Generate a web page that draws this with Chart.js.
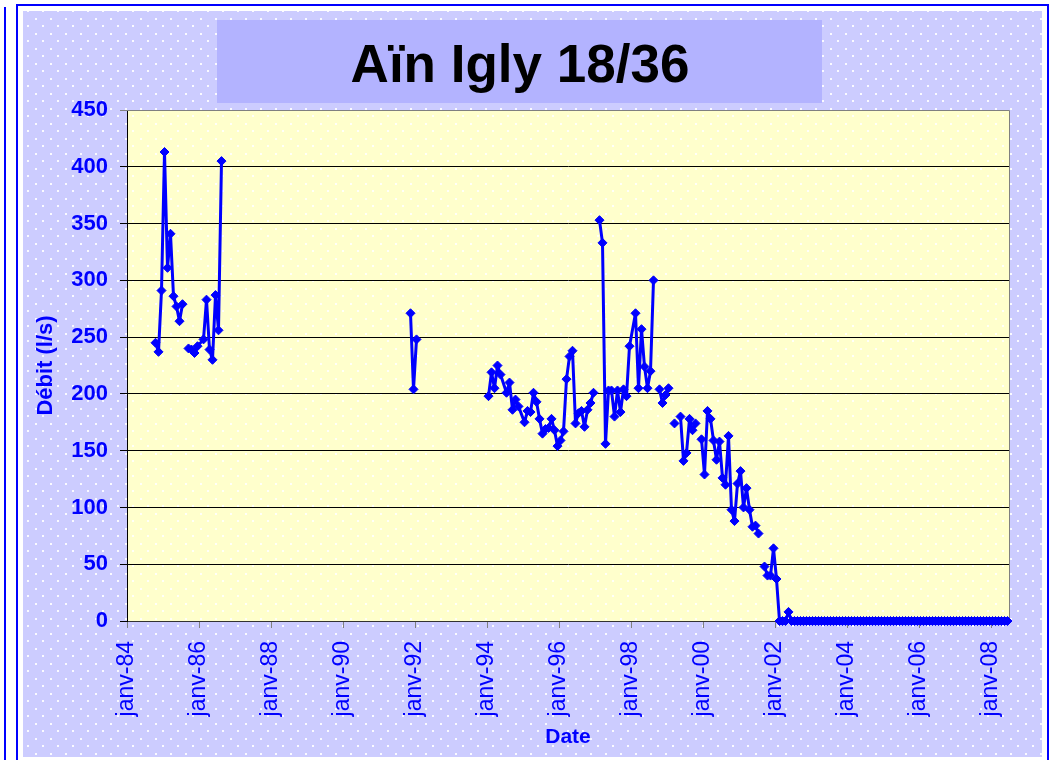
<!DOCTYPE html>
<html>
<head>
<meta charset="utf-8">
<title>Aïn Igly 18/36</title>
<script src="https://cdn.jsdelivr.net/npm/chart.js@4.4.1/dist/chart.umd.min.js"></script>
<style>
  html, body { margin: 0; padding: 0; background: #fff; }
  canvas { display: block; }
</style>
</head>
<body>
<canvas id="chart" width="1053" height="760"></canvas>
<script>
const chartTitle = 'Aïn Igly 18/36';
const yTitle = 'Débit (l/s)';
const xTitle = 'Date';

const tickLabels = ['janv-84', 'janv-86', 'janv-88', 'janv-90', 'janv-92', 'janv-94', 'janv-96',
  'janv-98', 'janv-00', 'janv-02', 'janv-04', 'janv-06', 'janv-08'];

// monthly measurements, null = break in the curve
const months = [
  '1984-10', '1984-11', '1984-12',
  '1985-01', '1985-02', '1985-03', '1985-04', '1985-05', '1985-06', '1985-07', '1985-08', '1985-09', '1985-10', '1985-11', '1985-12',
  '1986-02', '1986-03', '1986-04', '1986-05', '1986-06', '1986-07', '1986-08', '1986-09',
  '1991-11', '1991-12', '1992-01', '1992-02',
  '1994-01', '1994-02', '1994-03', '1994-04', '1994-05', '1994-07', '1994-08', '1994-09', '1994-10', '1994-11',
  '1995-01', '1995-02', '1995-03', '1995-04', '1995-05', '1995-06', '1995-07', '1995-08', '1995-09', '1995-10', '1995-11', '1995-12',
  '1996-01', '1996-02', '1996-03', '1996-04', '1996-05', '1996-06', '1996-07', '1996-08', '1996-09', '1996-10', '1996-11', '1996-12',
  '1997-01', '1997-02', '1997-03', '1997-04', '1997-05', '1997-06', '1997-07', '1997-08', '1997-09', '1997-10', '1997-11', '1997-12',
  '1998-02', '1998-03', '1998-04', '1998-05', '1998-06', '1998-07', '1998-08', '1998-09', '1998-10', '1998-11', '1998-12',
  '1999-01', '1999-02', '1999-03', '1999-04', '1999-05', '1999-06', '1999-07', '1999-08', '1999-09', '1999-10', '1999-11', '1999-12',
  '2000-01', '2000-02', '2000-03', '2000-04', '2000-05', '2000-06', '2000-07', '2000-08', '2000-09', '2000-10', '2000-11', '2000-12',
  '2001-01', '2001-02', '2001-03', '2001-04', '2001-05', '2001-06', '2001-07', '2001-08', '2001-09', '2001-10', '2001-11', '2001-12',
  '2002-01', '2002-02', '2002-03', '2002-04', '2002-05', '2002-06', '2002-07', '2002-08', '2002-09', '2002-10', '2002-11', '2002-12',
  '2003-01', '2003-02', '2003-03', '2003-04', '2003-05', '2003-06', '2003-07', '2003-08', '2003-09', '2003-10', '2003-11', '2003-12',
  '2004-01', '2004-02', '2004-03', '2004-04', '2004-05', '2004-06', '2004-07', '2004-08', '2004-09', '2004-10', '2004-11', '2004-12',
  '2005-01', '2005-02', '2005-03', '2005-04', '2005-05', '2005-06', '2005-07', '2005-08', '2005-09', '2005-10', '2005-11', '2005-12',
  '2006-01', '2006-02', '2006-03', '2006-04', '2006-05', '2006-06', '2006-07', '2006-08', '2006-09', '2006-10', '2006-11', '2006-12',
  '2007-01', '2007-02', '2007-03', '2007-04', '2007-05', '2007-06', '2007-07', '2007-08', '2007-09', '2007-10', '2007-11', '2007-12',
  '2008-01', '2008-02', '2008-03', '2008-04', '2008-05', '2008-06'
];

const debit = [
  245, 237, 291,
  413, 311, 341, 286, 277, 264, 279, null, 240, 239, 236, 242,
  248, 283, 239, 230, 287, 256, 405, null,
  271, 204, 248, null,
  198, 219, 205, 225, 217, 201, 210, 186, 195, 189,
  175, 185, 184, 201, 193, 178, 165, 169, 170, 178, 168, 154,
  159, 167, 213, 233, 238, 174, 183, 185, 171, 186, 192, 201,
  null, 353, 333, 156, 203, 203, 180, 203, 184, 204, 198, 242,
  271, 205, 257, 224, 205, 220, 300, null, 204, 192, 199,
  205, null, 174, null, 180, 141, 148, 178, 168, 174, null, 160,
  129, 185, 178, 159, 142, 158, 126, 120, 163, 98, 88, 121,
  132, 100, 117, 98, 83, 84, 77, null, 48, 40, 40, 64,
  37, 0, 0, 0, 8, 0, 0, 0, 0, 0, 0, 0,
  0, 0, 0, 0, 0, 0, 0, 0, 0, 0, 0, 0,
  0, 0, 0, 0, 0, 0, 0, 0, 0, 0, 0, 0,
  0, 0, 0, 0, 0, 0, 0, 0, 0, 0, 0, 0,
  0, 0, 0, 0, 0, 0, 0, 0, 0, 0, 0, 0,
  0, 0, 0, 0, 0, 0, 0, 0, 0, 0, 0, 0,
  0, 0, 0, 0, 0, 0
];

const FONT = 'Arial, "Liberation Sans", sans-serif';
const BLUE = '#0000ff';

// months since janv-84, points sit mid-month
const monthIndex = (s) => {
  const [y, m] = s.split('-').map(Number);
  return (y - 1984) * 12 + (m - 1) + 0.5;
};
const labelIndex = (lbl) => {
  const yy = parseInt(lbl.slice(5), 10);
  const year = yy < 50 ? 2000 + yy : 1900 + yy;
  return (year - 1984) * 12;
};

const points = months.map((m, i) => ({ x: monthIndex(m), y: debit[i] }));

function dotPattern(ctx, bg) {
  const c = document.createElement('canvas');
  c.width = 15;
  c.height = 15;
  const p = c.getContext('2d');
  p.fillStyle = bg;
  p.fillRect(0, 0, 15, 15);
  p.fillStyle = 'rgba(255,255,255,0.9)';
  p.fillRect(5, 3, 2, 2);
  p.fillRect(12, 10, 2, 2);
  return ctx.createPattern(c, 'repeat');
}

const backdrop = {
  id: 'backdrop',
  beforeDraw(chart) {
    const { ctx, chartArea: a, width: W, height: H } = chart;
    ctx.save();
    ctx.fillStyle = '#fff';
    ctx.fillRect(0, 0, W, H);
    ctx.fillStyle = BLUE;
    ctx.fillRect(4, 7, 2, H - 7);
    ctx.fillRect(16, 4, 1033, 2);
    ctx.fillRect(16, 4, 2, H - 4);
    ctx.fillRect(1047, 4, 2, H - 4);
    ctx.fillStyle = dotPattern(ctx, '#ccccff');
    ctx.fillRect(23, 11, 1019, 746);
    ctx.fillStyle = '#b3b3ff';
    ctx.fillRect(217, 20, 605, 83);
    ctx.fillStyle = '#000';
    ctx.font = 'bold 53px ' + FONT;
    ctx.textAlign = 'center';
    ctx.textBaseline = 'alphabetic';
    ctx.fillText(chartTitle, 520, 82);
    ctx.fillStyle = dotPattern(ctx, '#ffffcc');
    ctx.fillRect(a.left, a.top, a.right - a.left, a.bottom - a.top);
    ctx.restore();
  },
  beforeDatasetsDraw(chart) {
    const { ctx, chartArea: a } = chart;
    ctx.save();
    ctx.strokeStyle = '#808080';
    ctx.lineWidth = 1;
    ctx.beginPath();
    ctx.moveTo(a.left, a.top + 0.5);
    ctx.lineTo(a.right + 0.5, a.top + 0.5);
    ctx.lineTo(a.right + 0.5, a.bottom);
    ctx.stroke();
    ctx.restore();
  }
};

new Chart(document.getElementById('chart'), {
  type: 'line',
  data: {
    datasets: [{
      data: points,
      borderColor: BLUE,
      backgroundColor: BLUE,
      borderWidth: 3,
      borderJoinStyle: 'round',
      pointStyle: 'rectRot',
      pointRadius: 4.5,
      pointBorderWidth: 1,
      spanGaps: false,
      tension: 0,
      clip: false
    }]
  },
  options: {
    responsive: false,
    animation: false,
    devicePixelRatio: 1,
    events: [],
    layout: { padding: { top: 110, right: 44, left: 0, bottom: 0 } },
    plugins: {
      legend: { display: false },
      tooltip: { enabled: false },
      title: { display: false }
    },
    scales: {
      x: {
        type: 'linear',
        position: 'bottom',
        min: 0,
        max: 294,
        afterFit: (s) => { s.height = 139; },
        afterBuildTicks: (s) => { s.ticks = tickLabels.map(l => ({ value: labelIndex(l) })); },
        ticks: {
          autoSkip: false,
          minRotation: 90,
          maxRotation: 90,
          padding: 13,
          color: BLUE,
          font: { family: FONT, size: 23 },
          callback: (v) => {
            const i = tickLabels.findIndex(l => labelIndex(l) === v);
            return i >= 0 ? tickLabels[i] : '';
          }
        },
        grid: { drawOnChartArea: false, color: '#808080', tickLength: 7 },
        border: { color: '#333', width: 1 },
        title: {
          display: true,
          text: xTitle,
          color: BLUE,
          font: { family: FONT, size: 21, weight: 'bold' },
          padding: { bottom: 10 }
        }
      },
      y: {
        min: 0,
        max: 450,
        afterFit: (s) => { s.width = 127; },
        ticks: {
          stepSize: 50,
          padding: 12,
          color: BLUE,
          font: { family: FONT, size: 22, weight: 'bold' }
        },
        grid: {
          color: (c) => (c.tick && c.tick.value === 450 ? '#808080' : '#000'),
          tickLength: 7,
          lineWidth: 1
        },
        border: { color: '#000', width: 1 },
        title: {
          display: true,
          text: yTitle,
          color: BLUE,
          font: { family: FONT, size: 22, weight: 'bold' },
          padding: { top: 33 }
        }
      }
    }
  },
  plugins: [backdrop]
});
</script>
</body>
</html>
